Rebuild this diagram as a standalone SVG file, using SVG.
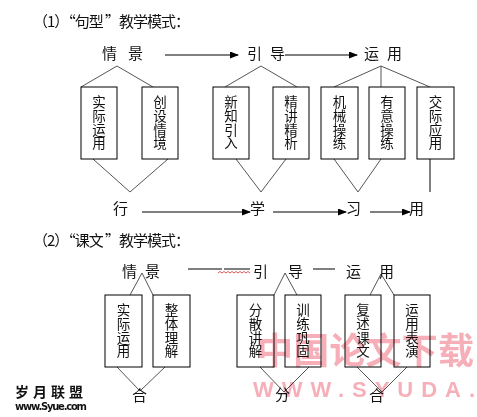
<svg xmlns="http://www.w3.org/2000/svg" width="477" height="417" viewBox="0 0 477 417">
<defs>
<marker id="ah" markerWidth="9" markerHeight="7" refX="8" refY="3.5" orient="auto" markerUnits="userSpaceOnUse">
<path d="M0,0 L9,3.5 L0,7 Z" fill="#000"/>
</marker>
<style>
text{font-family:"Noto Sans CJK SC","Noto Sans",sans-serif;fill:#111}
.t{font-size:15px}
.h{font-size:15px}
.v{font-size:13.5px;text-anchor:middle}
.box{fill:#fff;stroke:#000;stroke-width:1}
.vl{fill:none;stroke:#555;stroke-width:1}
.ar{fill:none;stroke:#000;stroke-width:1;marker-end:url(#ah)}
.ln{fill:none;stroke:#000;stroke-width:1}
</style>
</defs>
<rect width="477" height="417" fill="#fff"/>

<text class="t" x="33" y="27" textLength="157">（1）“句型 ”教学模式：</text>
<text class="t" x="33" y="246" textLength="157">（2）“课文 ”教学模式：</text>

<g id="connectors">
<!-- section 1 top -->
<line class="ar" x1="165" y1="55" x2="238" y2="55"/>
<line class="ar" x1="285" y1="55" x2="357" y2="55"/>
<polyline class="vl" points="81,87 117,66 153,87"/>
<polyline class="vl" points="225,87 261,66 297,87"/>
<polyline class="vl" points="334,87 381,66 430,87"/>
<line class="vl" x1="381" y1="66" x2="381" y2="87"/>
<!-- section 1 bottom -->
<polyline class="vl" points="93,159 130,192 168,159"/>
<polyline class="vl" points="236,159 261,192 286,159"/>
<polyline class="vl" points="334,159 358,192 381,159"/>
<line class="ln" x1="430" y1="159" x2="430" y2="192"/>
<line class="ar" x1="142" y1="212" x2="250" y2="212"/>
<line class="ar" x1="273" y1="212" x2="346" y2="212"/>
<line class="ar" x1="370" y1="212" x2="410" y2="212"/>
<!-- section 2 -->
<line class="ln" x1="188" y1="269" x2="222" y2="269"/>
<line class="ln" x1="224" y1="269" x2="250" y2="269"/>
<line class="ln" x1="313" y1="269" x2="335" y2="269"/>
<path d="M218,273 l2,-1.5 l2,1.5 l2,-1.5 l2,1.5 l2,-1.5 l2,1.5 l2,-1.5 l2,1.5 l2,-1.5 l2,1.5 l2,-1.5 l2,1.5 l2,-1.5 l2,1.5 l2,-1.5 l2,1.5" fill="none" stroke="#d03030" stroke-width="0.8"/>
<polyline class="vl" points="130,295 142,273 153,295"/>
<polyline class="vl" points="274,295 285,273 297,295"/>
<polyline class="vl" points="370,295 381,274 394,295"/>
<polyline class="vl" points="117,367 140,391 165,367"/>
<polyline class="vl" points="260,367 284,392 309,367"/>
<polyline class="vl" points="357,367 382,392 407,367"/>
</g>

<g id="n-qingjing1"><text class="h" x="102" y="59">情</text><text class="h" x="128" y="59">景</text></g>
<g id="n-yindao1"><text class="h" x="247" y="59">引</text><text class="h" x="270" y="59">导</text></g>
<g id="n-yunyong1"><text class="h" x="364" y="59">运</text><text class="h" x="387" y="59">用</text></g>

<g id="b1"><rect class="box" x="81" y="87" width="36" height="72"/><text class="v" x="99" y="107">实<tspan x="99" dy="13.8">际</tspan><tspan x="99" dy="13.8">运</tspan><tspan x="99" dy="13.8">用</tspan></text></g>
<g id="b2"><rect class="box" x="142" y="87" width="36" height="72"/><text class="v" x="160" y="107">创<tspan x="160" dy="13.8">设</tspan><tspan x="160" dy="13.8">情</tspan><tspan x="160" dy="13.8">境</tspan></text></g>
<g id="b3"><rect class="box" x="213" y="87" width="36" height="72"/><text class="v" x="231" y="107">新<tspan x="231" dy="13.8">知</tspan><tspan x="231" dy="13.8">引</tspan><tspan x="231" dy="13.8">入</tspan></text></g>
<g id="b4"><rect class="box" x="273" y="87" width="36" height="72"/><text class="v" x="291" y="107">精<tspan x="291" dy="13.8">讲</tspan><tspan x="291" dy="13.8">精</tspan><tspan x="291" dy="13.8">析</tspan></text></g>
<g id="b5"><rect class="box" x="321" y="87" width="37" height="72"/><text class="v" x="339.5" y="107">机<tspan x="339.5" dy="13.8">械</tspan><tspan x="339.5" dy="13.8">操</tspan><tspan x="339.5" dy="13.8">练</tspan></text></g>
<g id="b6"><rect class="box" x="369" y="87" width="36" height="72"/><text class="v" x="387" y="107">有<tspan x="387" dy="13.8">意</tspan><tspan x="387" dy="13.8">操</tspan><tspan x="387" dy="13.8">练</tspan></text></g>
<g id="b7"><rect class="box" x="417" y="87" width="37" height="72"/><text class="v" x="435.5" y="107">交<tspan x="435.5" dy="13.8">际</tspan><tspan x="435.5" dy="13.8">应</tspan><tspan x="435.5" dy="13.8">用</tspan></text></g>

<g id="n-xing"><text class="h" x="113" y="214">行</text></g>
<g id="n-xue"><text class="h" x="250" y="214">学</text></g>
<g id="n-xi"><text class="h" x="346" y="214">习</text></g>
<g id="n-yong"><text class="h" x="409" y="214">用</text></g>

<g id="n-qingjing2"><text class="h" x="122" y="277">情</text><text class="h" x="145" y="277">景</text></g>
<g id="n-yindao2"><text class="h" x="253" y="277">引</text><text class="h" x="288" y="277">导</text></g>
<g id="n-yunyong2"><text class="h" x="346" y="277">运</text><text class="h" x="379" y="277">用</text></g>

<g id="c1"><rect class="box" x="105" y="295" width="37" height="72"/><text class="v" x="123.5" y="315">实<tspan x="123.5" dy="13.8">际</tspan><tspan x="123.5" dy="13.8">运</tspan><tspan x="123.5" dy="13.8">用</tspan></text></g>
<g id="c2"><rect class="box" x="153" y="295" width="37" height="72"/><text class="v" x="171.5" y="315">整<tspan x="171.5" dy="13.8">体</tspan><tspan x="171.5" dy="13.8">理</tspan><tspan x="171.5" dy="13.8">解</tspan></text></g>
<g id="c3"><rect class="box" x="237" y="295" width="37" height="72"/><text class="v" x="255.5" y="315">分<tspan x="255.5" dy="13.8">散</tspan><tspan x="255.5" dy="13.8">讲</tspan><tspan x="255.5" dy="13.8">解</tspan></text></g>
<g id="c4"><rect class="box" x="285" y="295" width="36" height="72"/><text class="v" x="303" y="315">训<tspan x="303" dy="13.8">练</tspan><tspan x="303" dy="13.8">巩</tspan><tspan x="303" dy="13.8">固</tspan></text></g>
<g id="c5"><rect class="box" x="345" y="295" width="36" height="72"/><text class="v" x="363" y="315">复<tspan x="363" dy="13.8">述</tspan><tspan x="363" dy="13.8">课</tspan><tspan x="363" dy="13.8">文</tspan></text></g>
<g id="c6"><rect class="box" x="394" y="295" width="36" height="72"/><text class="v" x="412" y="315">运<tspan x="412" dy="13.8">用</tspan><tspan x="412" dy="13.8">表</tspan><tspan x="412" dy="13.8">演</tspan></text></g>

<g id="n-he1"><text class="h" x="132" y="401">合</text></g>
<g id="n-fen"><text class="h" x="275" y="400">分</text></g>
<g id="n-he2"><text class="h" x="369" y="401">合</text></g>

<g id="watermark-syue">
<text x="15" y="397" font-size="14" font-weight="bold" textLength="68" fill="#222">岁月联盟</text>
<text x="15" y="410" font-size="10" font-weight="bold" textLength="72" fill="#222" style="font-family:'DejaVu Sans',sans-serif">www.Syue.com</text>
</g>
<g id="watermark-syuda" style="mix-blend-mode:multiply" opacity="0.6">
<text x="257" y="364" font-size="36" font-weight="bold" textLength="217" style="fill:#f07a88">中国论文下载</text>
<text x="253" y="397" font-size="22" font-weight="bold" textLength="222" style="fill:#f07a88;font-family:'Liberation Sans',sans-serif">WWW.SYUDA.</text>
</g>
</svg>
